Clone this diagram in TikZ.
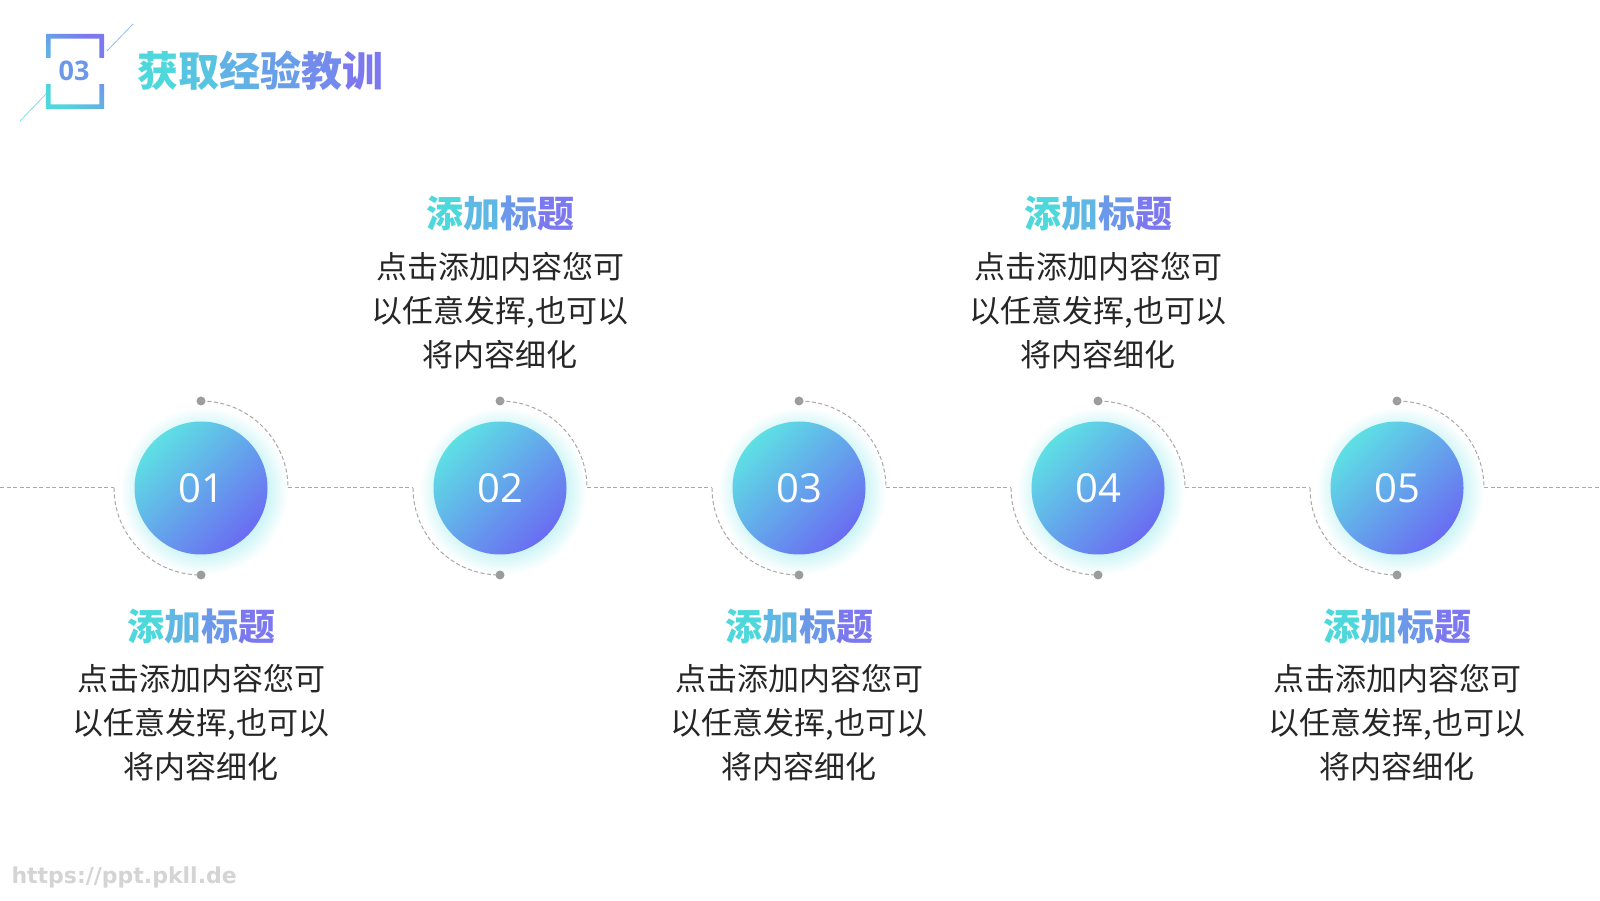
\documentclass[tikz,border=0pt]{standalone}
\usepackage{fontspec}
\setmainfont{Open Sans}
\newfontfamily\cjk{Noto Sans CJK SC}
\newfontfamily\numfont{Open Sans}
\newfontfamily\urlfont{DejaVu Sans}
\usepackage{xcolor}
\definecolor{cyanT}{HTML}{4FD8DC}
\definecolor{violetT}{HTML}{7B78F0}
\colorlet{gA}{cyanT}
\colorlet{gB}{cyanT!67!violetT}
\colorlet{gC}{cyanT!33!violetT}
\colorlet{gD}{violetT}
\colorlet{hA}{cyanT}
\colorlet{hB}{cyanT!80!violetT}
\colorlet{hC}{cyanT!60!violetT}
\colorlet{hD}{cyanT!40!violetT}
\colorlet{hE}{cyanT!20!violetT}
\colorlet{hF}{violetT}
\definecolor{ballA}{HTML}{5EE0E4}
\definecolor{ballB}{HTML}{6A6CF2}
\definecolor{glowc}{HTML}{CFF5F7}
\definecolor{lineg}{HTML}{A8A8A8}
\definecolor{dotg}{HTML}{9C9C9C}
\definecolor{bodyc}{HTML}{262626}
\definecolor{wmark}{HTML}{D4D4D4}
\pgfdeclareradialshading{ballglow}{\pgfpoint{0bp}{0bp}}{color(0bp)=(glowc); color(19bp)=(glowc); color(25bp)=(white); color(50bp)=(white)}
\newcommand{\ttl}{\textcolor{gA}{添}\textcolor{gB}{加}\textcolor{gC}{标}\textcolor{gD}{题}}
\newcommand{\bodytxt}{点击添加内容您可\\以任意发挥,也可以\\将内容细化}

\begin{document}
\begin{tikzpicture}[x=1pt, y=1pt,
  dashline/.style={draw=lineg, line width=1pt, dash pattern=on 4pt off 2.5pt},
  arcdot/.style={circle, fill=dotg, inner sep=0pt, minimum size=9pt},
  ball/.style={circle, minimum size=133pt, inner sep=0pt, top color=ballA, bottom color=ballB,
    shading angle=45, text=white, font=\numfont\fontsize{40}{40}\selectfont},
  ttlbox/.style={font=\cjk\bfseries\fontsize{37}{37}\selectfont},
  bodybox/.style={align=center, text=bodyc, font=\cjk\fontsize{31}{44}\selectfont}]
  \fill[white] (0,0) rectangle (1600,900);
  \useasboundingbox (0,0) rectangle (1600,900);

  \shade[even odd rule, top color=hF, bottom color=hA, shading angle=-45]
    (46,791) rectangle (104,866) (50.7,795.7) rectangle (99.3,861.3);
  \fill[white] (40,816) rectangle (110,842);
  \draw[hD!70, line width=0.8pt] (107,849) -- (133,876);
  \draw[hB!70, line width=0.8pt] (20,779) -- (46,806);
  \node[font=\numfont\bfseries\fontsize{27}{27}\selectfont, text=gC] (num) at (74,829) {03};
  \node[font=\cjk\bfseries\fontsize{41}{41}\selectfont] (head) at (260,829)
    {\textcolor{hA}{获}\textcolor{hB}{取}\textcolor{hC}{经}\textcolor{hD}{验}\textcolor{hE}{教}\textcolor{hF}{训}};

  \coordinate (r0) at (0,412);
  \coordinate (l6) at (1600,412);
  \foreach \i/\cx in {1/201,2/500,3/799,4/1098,5/1397}{
    \shade[shading=ballglow] (\cx+3,409) circle (84);
    \node[ball] (ball\i) at (\cx,412) {0\i};
    \coordinate (r\i) at (\cx+87,412);
    \coordinate (l\i) at (\cx-87,412);
    \node[arcdot] (top\i) at (\cx,499) {};
    \node[arcdot] (bot\i) at (\cx,325) {};
    \draw[dashline] (top\i.center) arc[start angle=90, end angle=0, radius=87];
    \draw[dashline] (l\i) arc[start angle=180, end angle=270, radius=87];
  }
  \foreach \a/\b in {0/1,1/2,2/3,3/4,4/5,5/6}
    \draw[dashline] (r\a) -- (l\b);

  \foreach \i/\cx in {2/500,4/1098}{
    \node[ttlbox] (title\i) at (\cx,687) {\ttl};
    \node[bodybox] (text\i) at (\cx,589) {\bodytxt};
  }
  \foreach \i/\cx in {1/201,3/799,5/1397}{
    \node[ttlbox] (title\i) at (\cx,274) {\ttl};
    \node[bodybox] (text\i) at (\cx,177) {\bodytxt};
  }

  \node[anchor=west, text=wmark, font=\urlfont\bfseries\fontsize{22}{22}\selectfont] (site) at (8,23) {https://ppt.pkll.de};
\end{tikzpicture}
\end{document}
